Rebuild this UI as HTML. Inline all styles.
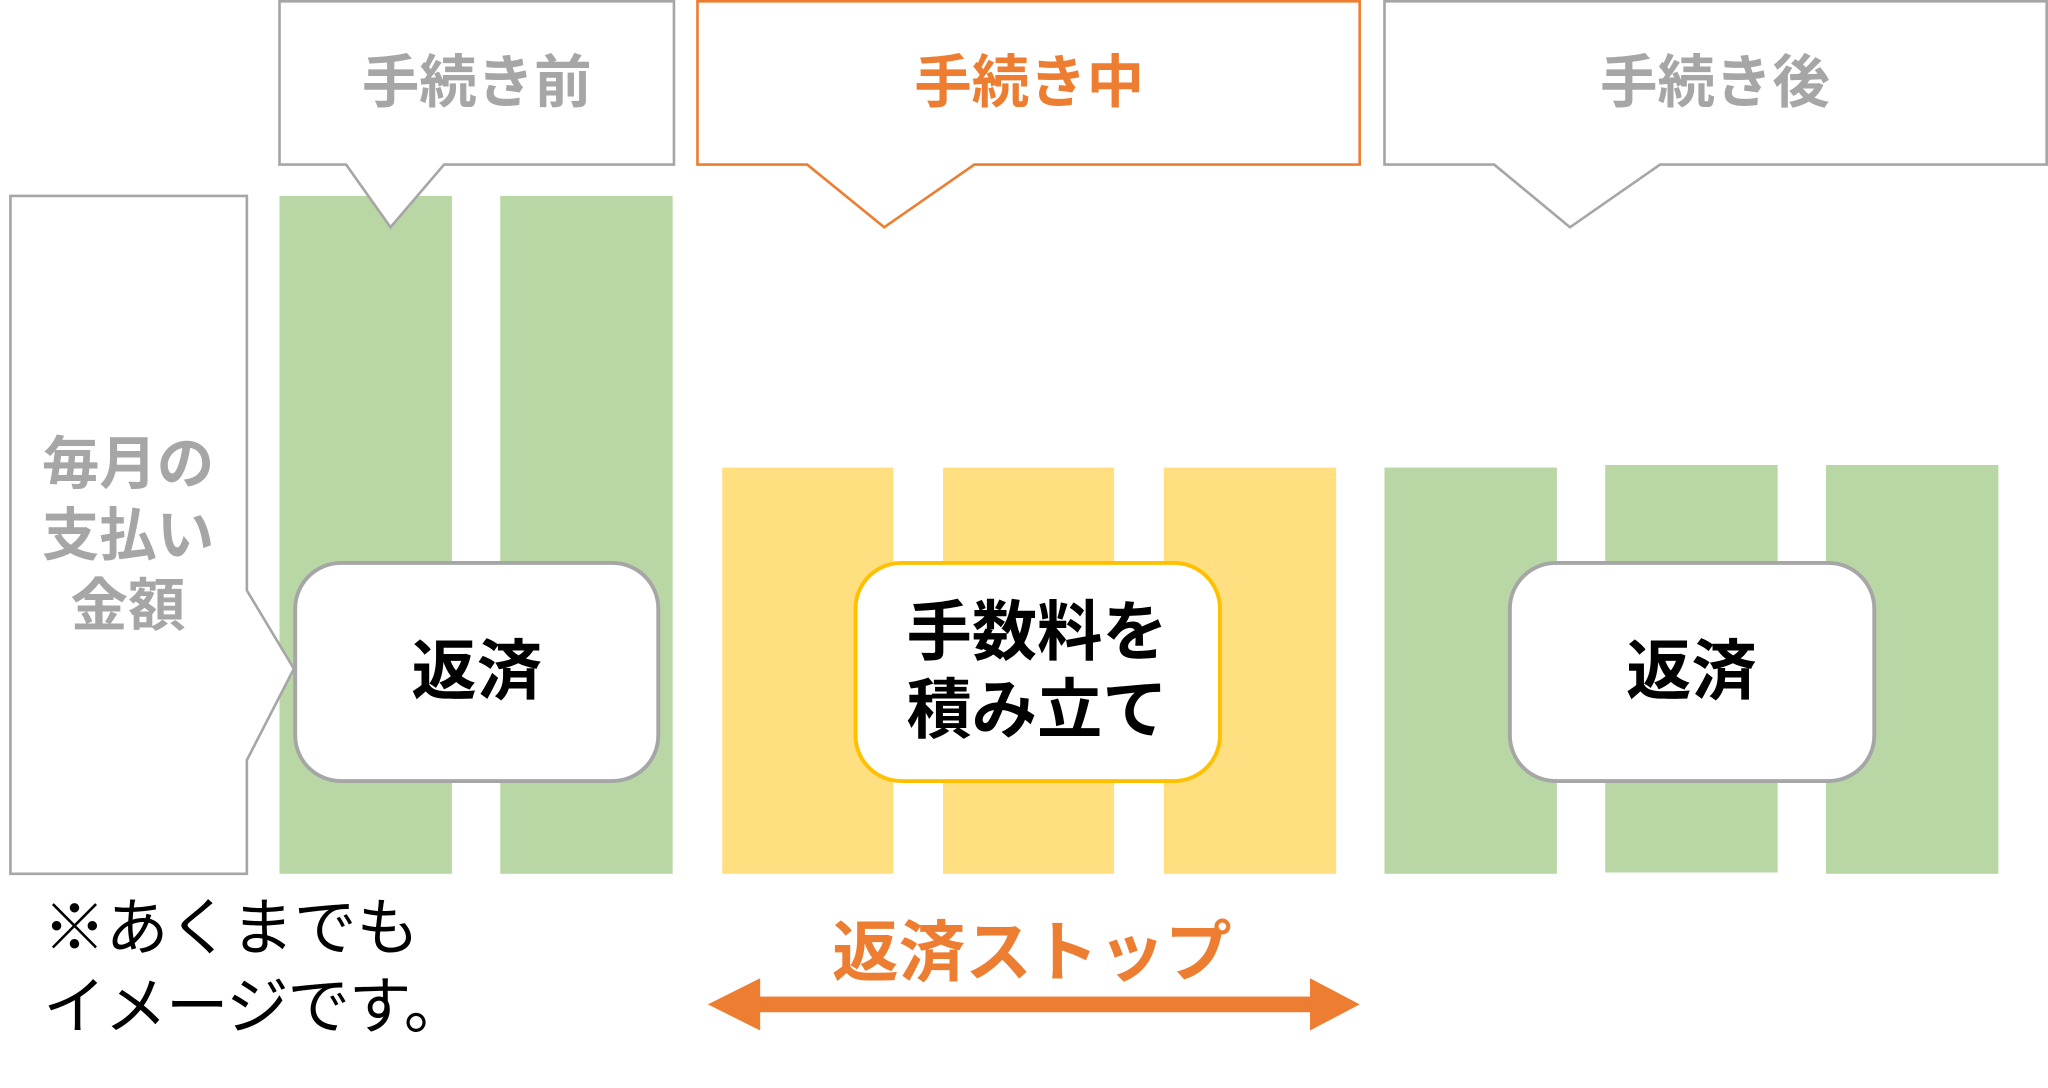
<!DOCTYPE html>
<html><head><meta charset="utf-8"><style>html,body{margin:0;padding:0;background:#fff}svg{display:block}</style></head>
<body>
<svg width="2048" height="1088" viewBox="0 0 1568 833" preserveAspectRatio="none" xmlns="http://www.w3.org/2000/svg" font-family="'Liberation Sans','Noto Sans CJK JP',sans-serif">
<rect width="1568" height="833" fill="#fff"/>
<g fill="#b9d7a5">
<rect x="214" y="150" width="132" height="519"/>
<rect x="383" y="150" width="132" height="519"/>
<rect x="1060" y="358" width="132" height="311"/>
<rect x="1229" y="356" width="132" height="312"/>
<rect x="1398" y="356" width="132" height="313"/>
</g>
<g fill="#ffdf80">
<rect x="553" y="358" width="131" height="311"/>
<rect x="722" y="358" width="131" height="311"/>
<rect x="891" y="358" width="132" height="311"/>
</g>
<path d="M8 150 H189 V452 L225 512 L189 582 V669 H8 Z" fill="#fff" stroke="#a6a6a6" stroke-width="2"/>
<g fill="#a6a6a6" font-weight="bold" font-size="44" text-anchor="middle">
<text x="98" y="370">毎月の</text>
<text x="98" y="425">支払い</text>
<text x="98" y="479">金額</text>
</g>
<path d="M214 1 H516 V126 H340 L299 174 L265 126 H214 Z" fill="#fff" stroke="#a6a6a6" stroke-width="2"/>
<path d="M534 1 H1041 V126 H746 L677 174 L618 126 H534 Z" fill="#fff" stroke="#ed7d31" stroke-width="2"/>
<path d="M1060 1 H1567 V126 H1271 L1202 174 L1144 126 H1060 Z" fill="#fff" stroke="#a6a6a6" stroke-width="2"/>
<g font-weight="bold" font-size="44" text-anchor="middle">
<text x="365" y="78" fill="#a6a6a6">手続き前</text>
<text x="788" y="78" fill="#ed7d31">手続き中</text>
<text x="1313" y="78" fill="#a6a6a6">手続き後</text>
</g>
<rect x="226" y="431" width="278" height="167" rx="35" fill="#fff" stroke="#a6a6a6" stroke-width="3"/>
<rect x="655" y="431" width="279" height="167" rx="35" fill="#fff" stroke="#ffc000" stroke-width="3"/>
<rect x="1156" y="431" width="279" height="167" rx="35" fill="#fff" stroke="#a6a6a6" stroke-width="3"/>
<g font-weight="bold" font-size="50" text-anchor="middle" fill="#000">
<text x="365" y="531">返済</text>
<text x="1295" y="531">返済</text>
<text x="794" y="501">手数料を</text>
<text x="794" y="561">積み立て</text>
</g>
<g font-size="48" fill="#000">
<text x="33" y="727">※あくまでも</text>
<text x="33" y="787" letter-spacing="-1">イメージです。</text>
</g>
<text x="790" y="747" font-size="51" font-weight="bold" fill="#ed7d31" text-anchor="middle">返済ストップ</text>
<rect x="578" y="763" width="430" height="12" fill="#ed7d31"/>
<path d="M542 769 L582 749 L582 789 Z" fill="#ed7d31"/>
<path d="M1041 769 L1003 749 L1003 789 Z" fill="#ed7d31"/>
</svg>
</body></html>
